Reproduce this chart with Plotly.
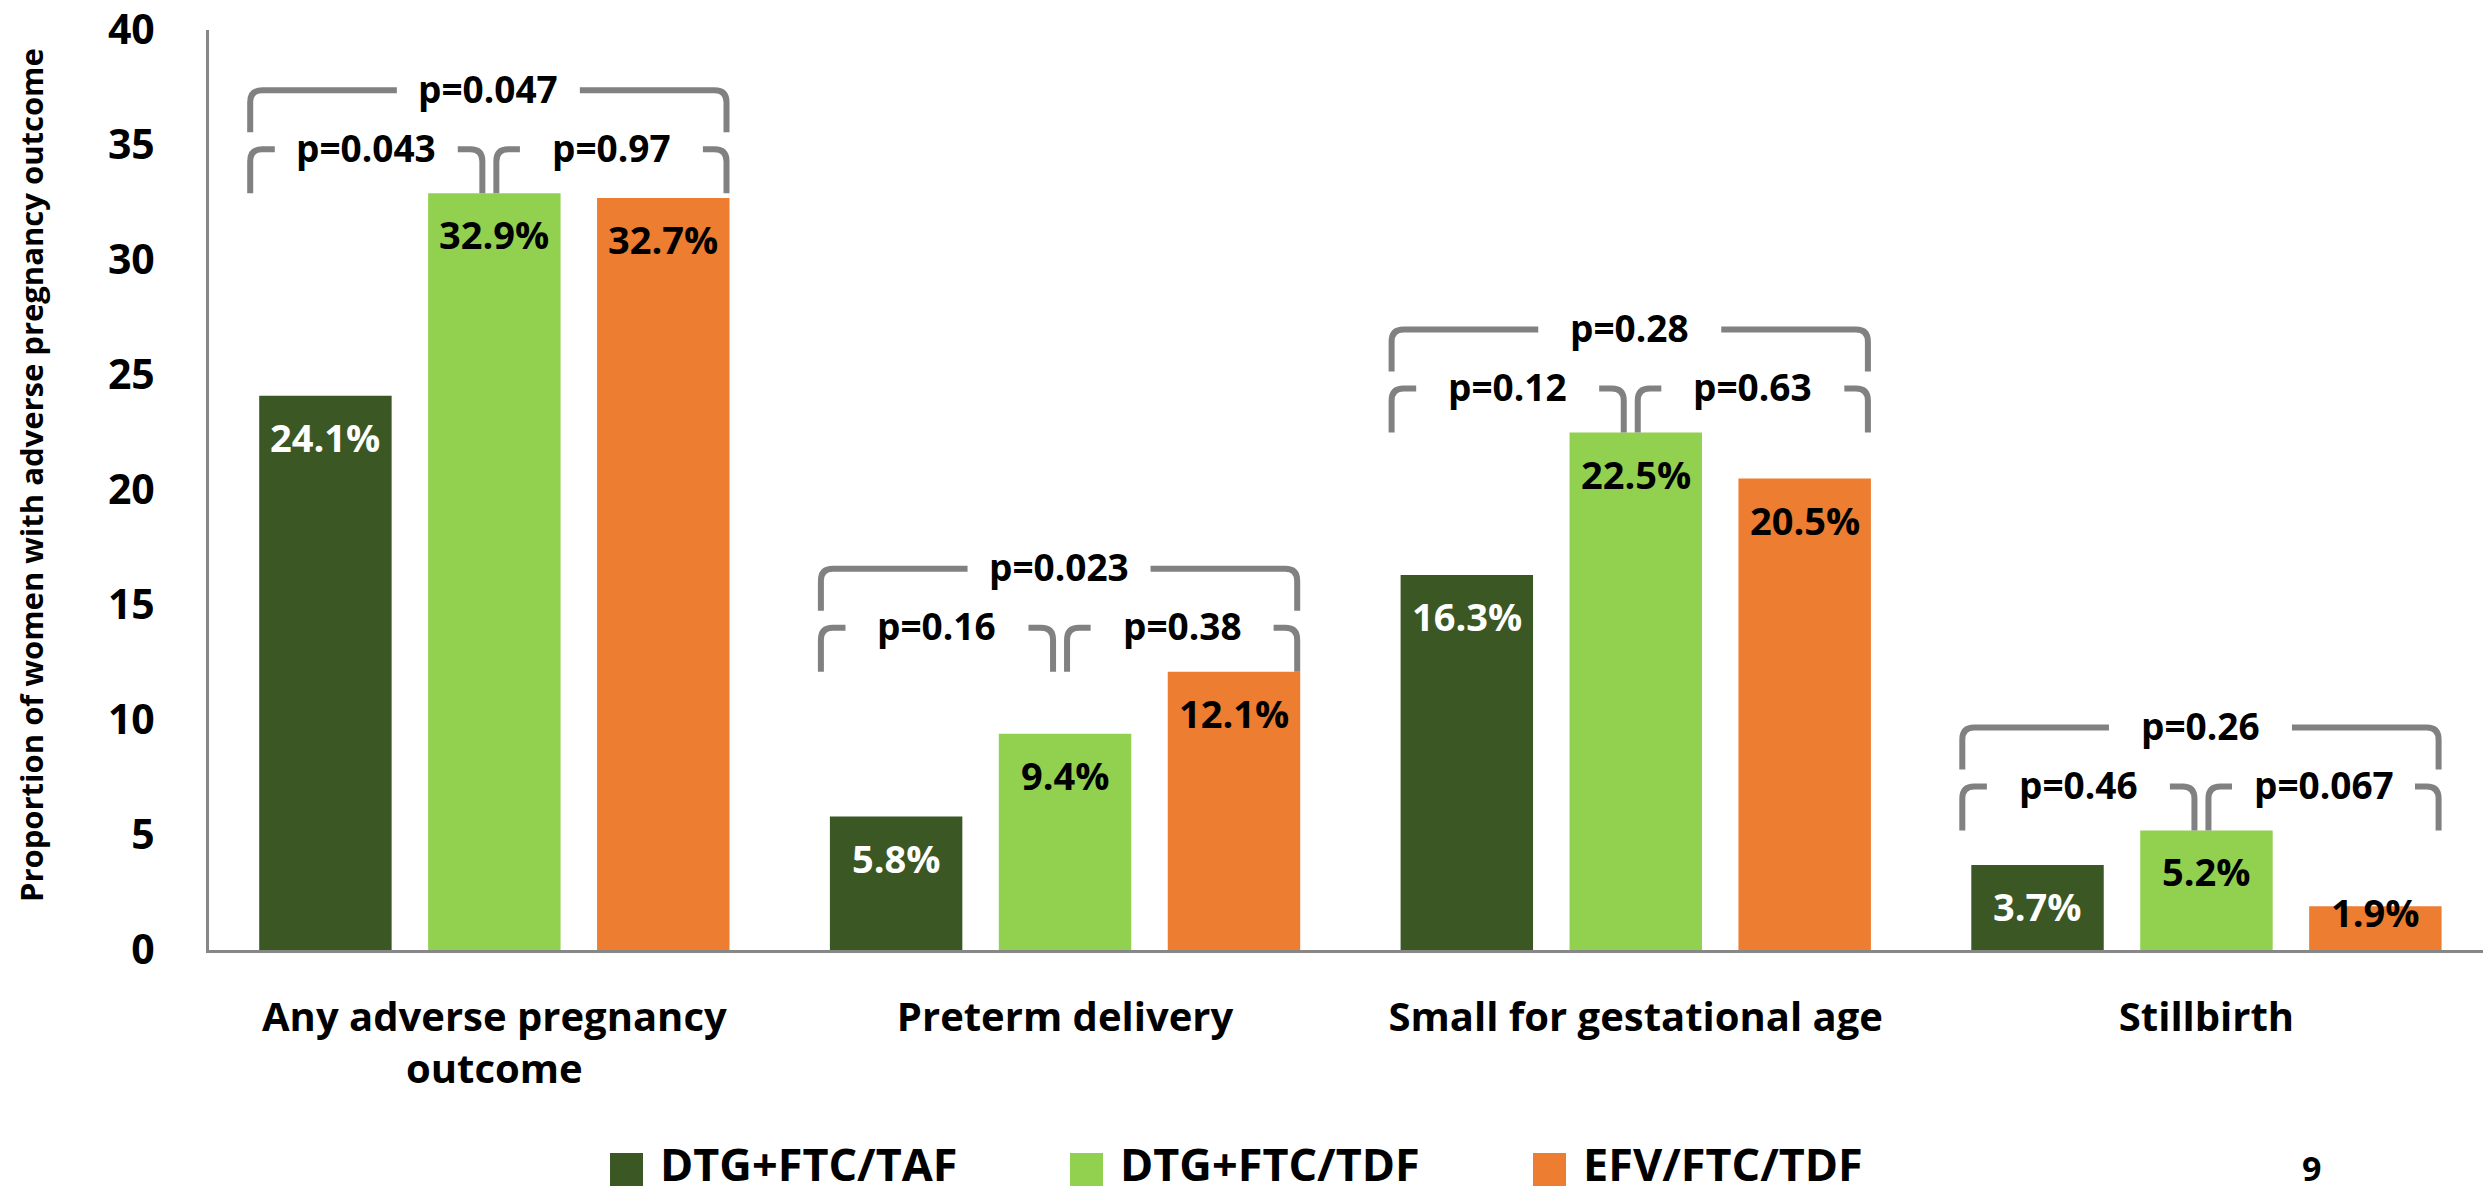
import plotly.graph_objects as go

# ---- data -------------------------------------------------------------
categories = ["Any adverse pregnancy<br>outcome", "Preterm delivery",
              "Small for gestational age", "Stillbirth"]
series_names = ["DTG+FTC/TAF", "DTG+FTC/TDF", "EFV/FTC/TDF"]
dtg_ftc_taf = [24.1, 5.8, 16.3, 3.7]
dtg_ftc_tdf = [32.9, 9.4, 22.5, 5.2]
efv_ftc_tdf = [32.7, 12.1, 20.5, 1.9]
p_taf_vs_tdf = ["0.043", "0.16", "0.12", "0.46"]
p_tdf_vs_efv = ["0.97", "0.38", "0.63", "0.067"]
p_taf_vs_efv = ["0.047", "0.023", "0.28", "0.26"]
y_ticks = [0, 5, 10, 15, 20, 25, 30, 35, 40]
y_title = "Proportion of women with adverse pregnancy outcome"
page_number = "9"

# ---- styling ----------------------------------------------------------
colors = ["#3B5724", "#92D050", "#ED7D31"]
label_colors = ["white", "black", "black"]
FONT = "Open Sans"
AXIS_GRAY = "#878787"
BRACKET_GRAY = "#818181"

W, H = 2483, 1193
M_L, M_R, M_T, M_B = 209, 0, 30, 243
PLOT_W = W - M_L - M_R
PLOT_H = H - M_T - M_B
PX_PER_X = 570.7                      # pixels per category step
Y_MAX = 40
PX_PER_Y = PLOT_H / Y_MAX
X_RANGE = [-0.5, -0.5 + PLOT_W / PX_PER_X]

BARGAP = 0.112
BARGROUPGAP = 0.216
SLOT = (1 - BARGAP) / 3
BAR_W = SLOT * (1 - BARGROUPGAP)


def bold(size, color="black"):
    return dict(family=FONT, size=size, color=color, weight="bold")


def dx(px):
    return px / PX_PER_X


def dy(px):
    return px / PX_PER_Y


def paper_x(px):
    return (px - M_L) / PLOT_W


def paper_y(py):
    return (H - M_B - py) / PLOT_H


series = [dtg_ftc_taf, dtg_ftc_tdf, efv_ftc_tdf]
xs = list(range(len(categories)))

fig = go.Figure()
for name, vals, col in zip(series_names, series, colors):
    fig.add_trace(go.Bar(
        x=xs, y=vals, name=name, marker=dict(color=col, line=dict(width=0)),
        showlegend=False, hoverinfo="skip"))

annotations = []
shapes = []

# value labels inside the bar tops
for j, vals in enumerate(series):
    for i, v in enumerate(vals):
        xc = i + (j - 1) * SLOT
        lift = 41 if v * PX_PER_Y > 60 else 6
        annotations.append(dict(
            x=xc, y=v, xref="x", yref="y", text=f"{v:.1f}%", showarrow=False,
            yshift=-lift, yanchor="middle", font=bold(38, label_colors[j])))

# significance brackets
R = 12          # corner radius in px
GAP_HALF = 91.5 # half width of the text gap in px


def bracket(x0, x1, y_leg, y_top, label):
    rx, ry = dx(R), dy(R)
    xm = (x0 + x1) / 2
    g0, g1 = xm - dx(GAP_HALF), xm + dx(GAP_HALF)
    left = (f"M {x0},{y_leg} L {x0},{y_top - ry} Q {x0},{y_top} {x0 + rx},{y_top} "
            f"L {g0},{y_top}")
    right = (f"M {g1},{y_top} L {x1 - rx},{y_top} Q {x1},{y_top} {x1},{y_top - ry} "
             f"L {x1},{y_leg}")
    for p in (left, right):
        shapes.append(dict(type="path", path=p, xref="x", yref="y",
                           line=dict(color=BRACKET_GRAY, width=6)))
    annotations.append(dict(
        x=xm, y=y_top, xref="x", yref="y", text=f"p={label}", showarrow=False,
        yanchor="middle", yshift=2, font=bold(37)))


for i in xs:
    top = max(s[i] for s in series)
    left_edge = i - SLOT - BAR_W / 2 - dx(9)
    right_edge = i + SLOT + BAR_W / 2 - dx(3)
    inner_top = top + dy(44)
    outer_leg = top + dy(61)
    outer_top = top + dy(103)
    bracket(left_edge, i - dx(12), top, inner_top, p_taf_vs_tdf[i])
    bracket(i + dx(2), right_edge, top, inner_top, p_tdf_vs_efv[i])
    bracket(left_edge, right_edge, outer_leg, outer_top, p_taf_vs_efv[i])

# legend row
legend_sq_left = [610, 1070, 1533]
for name, col, sx in zip(series_names, colors, legend_sq_left):
    shapes.append(dict(type="rect", xref="paper", yref="paper",
                       x0=paper_x(sx), x1=paper_x(sx + 33),
                       y0=paper_y(1186), y1=paper_y(1153),
                       fillcolor=col, line=dict(width=0)))
    annotations.append(dict(
        x=paper_x(sx + 48), y=paper_y(1163), xref="paper", yref="paper",
        text=name, showarrow=False, xanchor="left", yanchor="middle",
        font=bold(45)))

# y-axis title
annotations.append(dict(
    x=paper_x(31), y=paper_y(475), xref="paper", yref="paper",
    text=y_title, textangle=-90, showarrow=False,
    xanchor="center", yanchor="middle", font=bold(31)))

# page number
annotations.append(dict(
    x=paper_x(2311), y=paper_y(1143), xref="paper", yref="paper",
    text=page_number, showarrow=False, xanchor="center", yanchor="top",
    font=bold(34)))

fig.update_layout(
    width=W, height=H,
    margin=dict(l=M_L, r=M_R, t=M_T, b=M_B, autoexpand=False),
    paper_bgcolor="white", plot_bgcolor="white",
    barmode="group", bargap=BARGAP, bargroupgap=BARGROUPGAP,
    showlegend=False,
    shapes=shapes, annotations=annotations,
    font=dict(family=FONT, color="black"),
)
fig.update_xaxes(
    range=X_RANGE, tickvals=xs, ticktext=categories,
    showline=True, linecolor=AXIS_GRAY, linewidth=3,
    showgrid=False, zeroline=False, ticks="", ticklabelstandoff=30,
    tickfont=bold(40))
fig.update_yaxes(
    range=[0, Y_MAX], tickvals=y_ticks,
    showline=True, linecolor=AXIS_GRAY, linewidth=3,
    showgrid=False, zeroline=False, ticks="", ticklabelstandoff=43,
    ticklabeloverflow="allow", tickfont=bold(41))

fig.write_html("out.html", config={"displayModeBar": False})
